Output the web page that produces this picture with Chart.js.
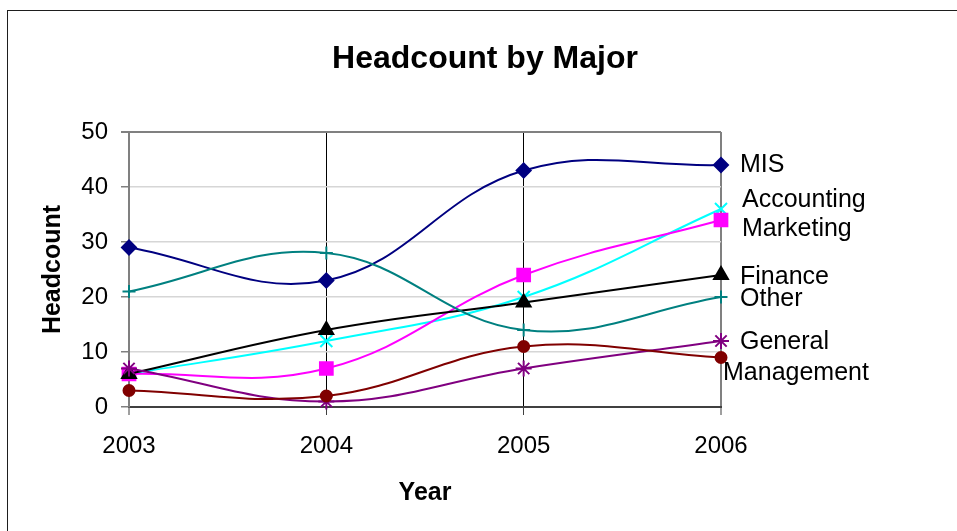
<!DOCTYPE html>
<html>
<head>
<meta charset="utf-8">
<title>Headcount by Major</title>
<script src="https://cdn.jsdelivr.net/npm/chart.js@4/dist/chart.umd.min.js"></script>
<style>
  html, body { margin: 0; padding: 0; background: #fff; }
  #wrap { position: relative; width: 957px; height: 531px; overflow: hidden; }
  #frame {
    position: absolute; left: 7px; top: 10px; width: 980px; height: 560px;
    border-left: 1px solid #1e1e1e; border-top: 1px solid #1e1e1e;
    pointer-events: none;
  }
  canvas { position: absolute; left: 0; top: 0; }
</style>
</head>
<body>
<div id="wrap">
  <div id="frame"></div>
  <canvas id="chart" width="957" height="531"></canvas>
</div>
<script>
// Headcount per major, by academic year
const years = ['2003', '2004', '2005', '2006'];
const mis = [29, 23, 43, 44];
const accounting = [6, 12, 20, 36];
const marketing = [6, 7, 24, 34];
const finance = [6, 14, 19, 24];
const other = [21, 28, 14, 20];
const generalManagement = [3, 2, 11, 9];
const unnamedMajor = [7, 1, 7, 12];
const yTicks = [0, 10, 20, 30, 40, 50];

const FONT = '"Liberation Sans", Arial, Helvetica, sans-serif';

function series(label, data, color, style, radius, endLabel) {
  return {
    label: label,
    data: data,
    borderColor: color,
    backgroundColor: color,
    borderWidth: 2,
    pointStyle: style,
    pointRadius: radius,
    pointHoverRadius: radius,
    pointBackgroundColor: color,
    pointBorderColor: color,
    pointBorderWidth: 2,
    tension: 0.4,
    fill: false,
    clip: false,
    endLabel: endLabel
  };
}

// Series names written beside the last point of each line
const endLabels = {
  id: 'endLabels',
  afterDatasetsDraw(chart) {
    const ctx = chart.ctx;
    chart.data.datasets.forEach((ds, i) => {
      if (!ds.endLabel) return;
      const meta = chart.getDatasetMeta(i);
      const pt = meta.data[meta.data.length - 1];
      ctx.save();
      ctx.font = '25px ' + FONT;
      ctx.fillStyle = '#000';
      ctx.textAlign = 'left';
      ctx.textBaseline = 'middle';
      ds.endLabel.forEach(line => {
        ctx.fillText(line.text, pt.x + line.dx, pt.y + line.dy);
      });
      ctx.restore();
    });
  }
};

// Chart heading, centred over the whole frame
const heading = {
  id: 'heading',
  afterDraw(chart) {
    const ctx = chart.ctx;
    ctx.save();
    ctx.font = 'bold 32px ' + FONT;
    ctx.fillStyle = '#000';
    ctx.textAlign = 'center';
    ctx.textBaseline = 'middle';
    ctx.fillText('Headcount by Major', 485, 59);
    ctx.restore();
  }
};

const datasets = [
  series('Other', other, '#008080', 'cross', 6.5, [{ text: 'Other', dx: 19, dy: 2.5 }]),
  series('General Management', generalManagement, '#800000', 'circle', 5.5,
    [{ text: 'General', dx: 19, dy: -15.5 }, { text: 'Management', dx: 2, dy: 16 }]),
  series('', unnamedMajor, '#800080', 'star', 8, null),
  series('Finance', finance, '#000000', 'triangle', 8, [{ text: 'Finance', dx: 19, dy: 2 }]),
  series('Marketing', marketing, '#FF00FF', 'rect', 9, [{ text: 'Marketing', dx: 21, dy: 9 }]),
  series('Accounting', accounting, '#00FFFF', 'crossRot', 8.5, [{ text: 'Accounting', dx: 21, dy: -8.5 }]),
  series('MIS', mis, '#000080', 'rectRot', 7, [{ text: 'MIS', dx: 19, dy: 0 }])
];

new Chart(document.getElementById('chart'), {
  type: 'line',
  data: { labels: years, datasets: datasets },
  options: {
    responsive: false,
    animation: false,
    events: [],
    layout: { padding: { left: 5, top: 132, right: 236, bottom: 0 } },
    plugins: {
      legend: { display: false },
      title: { display: false },
      tooltip: { enabled: false }
    },
    scales: {
      x: {
        type: 'category',
        offset: false,
        afterFit(scale) { scale.height = 124; },
        grid: {
          color: c => (c.index === 1 || c.index === 2) ? '#000000' : '#808080',
          lineWidth: c => (c.index === 1 || c.index === 2) ? 1 : 2,
          tickColor: '#404040',
          tickWidth: 1,
          tickLength: 8,
          drawOnChartArea: true
        },
        border: { display: true, color: '#404040', width: 2 },
        ticks: {
          color: '#000',
          font: { family: FONT, size: 24 },
          padding: 17,
          maxRotation: 0,
          autoSkip: false
        },
        title: {
          display: true,
          text: 'Year',
          color: '#000',
          font: { family: FONT, size: 25, weight: 'bold' },
          padding: { top: 0, bottom: 23 }
        }
      },
      y: {
        min: 0,
        max: 50,
        afterFit(scale) { scale.width = 124; },
        afterBuildTicks(scale) { scale.ticks = yTicks.map(v => ({ value: v })); },
        grid: {
          color: c => c.tick && c.tick.value === 50 ? '#808080' : '#d6d6d6',
          lineWidth: c => c.tick && c.tick.value === 50 ? 2 : 1.5,
          tickColor: '#808080',
          tickLength: 8,
          drawOnChartArea: true
        },
        border: { display: true, color: '#808080', width: 2 },
        ticks: {
          color: '#000',
          font: { family: FONT, size: 24 },
          padding: 13
        },
        title: {
          display: true,
          text: 'Headcount',
          color: '#000',
          font: { family: FONT, size: 25, weight: 'bold' },
          padding: { top: 33, bottom: 0 }
        }
      }
    }
  },
  plugins: [endLabels, heading]
});
</script>
</body>
</html>
